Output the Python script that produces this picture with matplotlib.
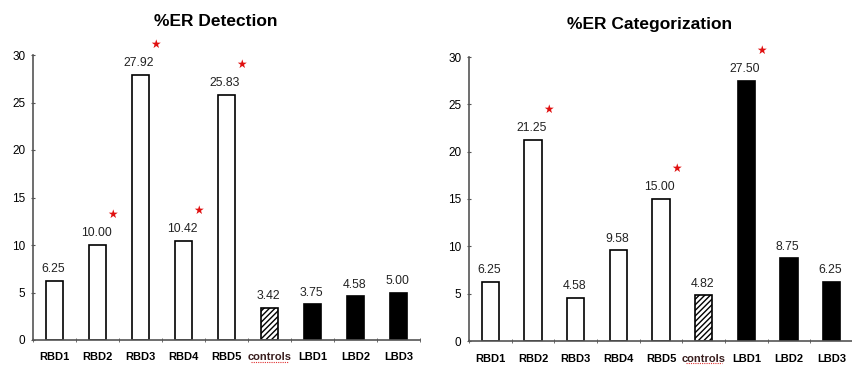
import matplotlib
matplotlib.use("Agg")
import matplotlib.pyplot as plt
import numpy as np

plt.rcParams['font.family'] = ['Liberation Sans', 'DejaVu Sans']
plt.rcParams['hatch.linewidth'] = 1.0

categories = ["RBD1", "RBD2", "RBD3", "RBD4", "RBD5", "controls", "LBD1", "LBD2", "LBD3"]
detection = [6.25, 10.00, 27.92, 10.42, 25.83, 3.42, 3.75, 4.58, 5.00]
categorization = [6.25, 21.25, 4.58, 9.58, 15.00, 4.82, 27.50, 8.75, 6.25]
detection_labels = ["6.25", "10.00", "27.92", "10.42", "25.83", "3.42", "3.75", "4.58", "5.00"]
categorization_labels = ["6.25", "21.25", "4.58", "9.58", "15.00", "4.82", "27.50", "8.75", "6.25"]
detection_sig = ["RBD2", "RBD3", "RBD4", "RBD5"]
categorization_sig = ["RBD2", "RBD5", "LBD1"]
group = ["R", "R", "R", "R", "R", "C", "L", "L", "L"]
yticks = [0, 5, 10, 15, 20, 25, 30]

fig = plt.figure(figsize=(8.52, 3.67), dpi=100)
ax1 = fig.add_axes([33/852, 1-340/367, 387/852, 285/367])
ax2 = fig.add_axes([469/852, 1-341/367, 384/852, 284/367])


def draw(ax, values, labels, sig, title, tpos):
    x = np.arange(len(categories))
    for i, (v, g) in enumerate(zip(values, group)):
        if g == "R":
            fc, hatch = "white", None
        elif g == "C":
            fc, hatch = "white", "//////"
        else:
            fc, hatch = "black", None
        ax.bar(x[i], v, width=0.4, facecolor=fc, edgecolor="black",
               linewidth=1.2, hatch=hatch, zorder=2)
        ax.annotate(labels[i], (x[i], v), xytext=(-1, 4), textcoords="offset points",
                    ha="center", va="bottom", fontsize=8.8, color="#222222")
        if categories[i] in sig:
            ax.annotate("\u2605", (x[i], v), xytext=(11, 22), textcoords="offset points",
                        ha="center", va="center", fontsize=8.5, color="#e01010",
                        family="DejaVu Sans", annotation_clip=False)
    ax.set_xlim(-0.5, len(categories) - 0.5)
    ax.set_ylim(0, 30)
    ax.set_yticks(yticks)
    ax.set_yticklabels([str(t) for t in yticks], fontsize=8.5)
    ax.set_xticks(x)
    ax.set_xticklabels(categories, fontsize=8, fontweight="bold")
    ax.set_xticks(np.arange(len(categories) + 1) - 0.5, minor=True)
    ax.tick_params(axis="x", which="major", length=0, pad=9)
    ax.tick_params(axis="x", which="minor", length=3, direction="inout", color="#555555")
    ax.tick_params(axis="y", length=3, direction="inout", color="#555555", pad=4)
    for s in ["top", "right"]:
        ax.spines[s].set_visible(False)
    for s in ["left", "bottom"]:
        ax.spines[s].set_color("#555555")
        ax.spines[s].set_linewidth(1.2)
    lab = ax.get_xticklabels()[5]
    lab.set_color("#3a1f1f")
    ax.text(tpos[0], tpos[1], title, transform=ax.transAxes, ha="center", va="center",
            fontsize=12.5, fontweight="bold")
    # red spell-check style underline under "controls"
    ax.plot([4.58, 5.42], [-0.078, -0.078], transform=ax.get_xaxis_transform(),
            color="#e03030", lw=0.8, ls=(0, (1, 1)), clip_on=False)


draw(ax1, detection, detection_labels, detection_sig, "%ER Detection", (0.473, 1.116))
draw(ax2, categorization, categorization_labels, categorization_sig, "%ER Categorization", (0.471, 1.113))

fig.savefig("out.png", dpi=100)
